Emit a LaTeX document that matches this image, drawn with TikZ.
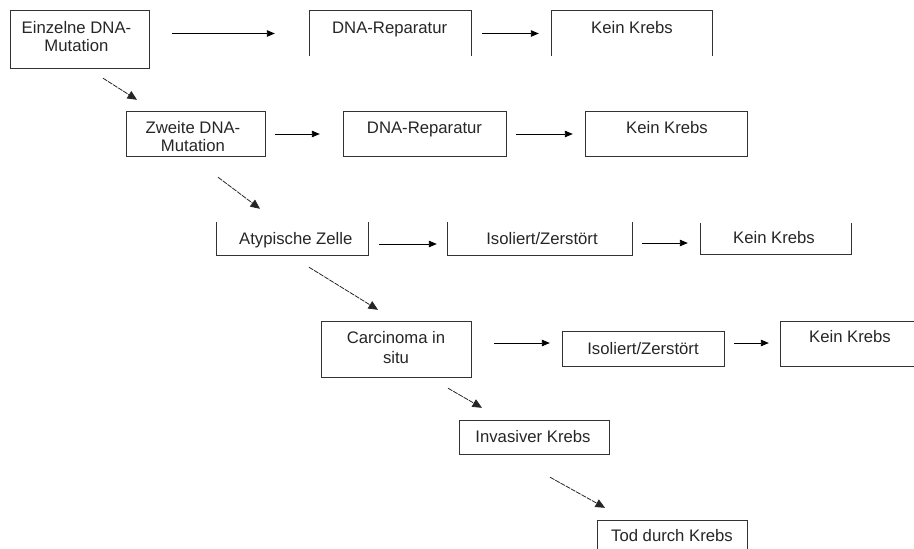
\documentclass[tikz,border=0pt]{standalone}
\usepackage{fontspec}
\setmainfont{Liberation Sans}
\usetikzlibrary{arrows.meta}
\tikzset{
  boxshape/.style={draw=none, inner sep=0pt, rectangle},
  edge/.style={draw=black!80, line width=0.9pt},
  txt/.style={inner sep=0pt, align=center, text height=12pt, text depth=0pt,
    font=\fontsize{16.7}{18.5}\selectfont, text=black!85},
  txttwo/.style={inner sep=0pt, align=center, anchor=north,
    font=\fontsize{16.7}{18.5}\selectfont, text=black!85},
  harr/.style={draw=black, line width=0.9pt, -{Triangle[length=8pt,width=6.5pt]}},
  darr/.style={draw=black!85, line width=0.8pt, dash pattern=on 5pt off 1pt,
    -{Triangle[length=9.5pt,width=8.5pt]}}
}
\begin{document}
\begin{tikzpicture}[x=1pt,y=-1pt]
\useasboundingbox (0,0) rectangle (914,549);
% box shapes
\node[boxshape, minimum width=138pt, minimum height=57pt] (b1) at (80,39.5) {};
\node[boxshape, minimum width=161pt, minimum height=45pt] (r1) at (390.5,33.5) {};
\node[boxshape, minimum width=160pt, minimum height=45pt] (k1) at (632,33.5) {};
\node[boxshape, minimum width=138pt, minimum height=44pt] (b2) at (196,134) {};
\node[boxshape, minimum width=162pt, minimum height=44pt] (r2) at (425,134) {};
\node[boxshape, minimum width=161pt, minimum height=44pt] (k2) at (666.5,134) {};
\node[boxshape, minimum width=151pt, minimum height=33pt] (b3) at (292.5,238.5) {};
\node[boxshape, minimum width=184pt, minimum height=33pt] (r3) at (540,238.5) {};
\node[boxshape, minimum width=150pt, minimum height=31pt] (k3) at (776,238.5) {};
\node[boxshape, minimum width=149pt, minimum height=55pt] (b4) at (396.5,349.5) {};
\node[boxshape, minimum width=161pt, minimum height=34pt] (r4) at (643.5,349) {};
\node[boxshape, minimum width=133pt, minimum height=44pt] (k4) at (847.5,344) {};
\node[boxshape, minimum width=149pt, minimum height=33pt] (b5) at (534.5,437.5) {};
\node[boxshape, minimum width=149pt, minimum height=28pt] (b6) at (672.5,535) {};
% outlines
\draw[edge] (b1.south west) rectangle (b1.north east);
\draw[edge] (r1.south west) -- (r1.north west) -- (r1.north east) -- (r1.south east);
\draw[edge] (k1.south west) -- (k1.north west) -- (k1.north east) -- (k1.south east);
\draw[edge] (b2.south west) rectangle (b2.north east);
\draw[edge] (r2.south west) rectangle (r2.north east);
\draw[edge] (k2.south west) rectangle (k2.north east);
\draw[edge] (b3.north west) -- (b3.south west) -- (b3.south east) -- (b3.north east);
\draw[edge] (r3.north west) -- (r3.south west) -- (r3.south east) -- (r3.north east);
\draw[edge] (k3.north west) -- (k3.south west) -- (k3.south east) -- (k3.north east);
\draw[edge] (b4.south west) rectangle (b4.north east);
\draw[edge] (r4.south west) rectangle (r4.north east);
\draw[edge] (k4.north east) -- (k4.north west) -- (k4.south west) -- (k4.south east);
\draw[edge] (b5.south west) rectangle (b5.north east);
\draw[edge] (b6.south west) -- (b6.north west) -- (b6.north east) -- (b6.south east);
% texts
\node[txttwo] (t1) at (76.5,20.8) {Einzelne DNA-\\Mutation};
\node[txt] (tr1) at (389.7,27) {DNA-Reparatur};
\node[txt] (tk1) at (632,27) {Kein Krebs};
\node[txttwo] (t2) at (193,120.8) {Zweite DNA-\\Mutation};
\node[txt] (tr2) at (424.5,127) {DNA-Reparatur};
\node[txt] (tk2) at (667,127) {Kein Krebs};
\node[txt] (t3) at (295.8,238) {Atypische Zelle};
\node[txt] (tr3) at (542,238) {Isoliert/Zerstört};
\node[txt] (tk3) at (774,237) {Kein Krebs};
\node[txttwo, font=\fontsize{16.7}{20}\selectfont] (t4) at (396,330.8) {Carcinoma in\\situ};
\node[txt] (tr4) at (643,348) {Isoliert/Zerstört};
\node[txt] (tk4) at (850,336) {Kein Krebs};
\node[txt] (t5) at (533,436) {Invasiver Krebs};
\node[txt] (t6) at (672,535) {Tod durch Krebs};
% horizontal arrows
\draw[harr, shorten <=23pt, shorten >=35pt] (b1.east |- r1.west) -- (r1.west);
\draw[harr, shorten <=11pt, shorten >=13pt] (r1.east) -- (k1.west);
\draw[harr, shorten <=10pt, shorten >=24pt] (b2.east) -- (r2.west);
\draw[harr, shorten <=10pt, shorten >=13pt] (r2.east) -- (k2.west);
\draw[harr, shorten <=11pt, shorten >=11pt] ([yshift=-5.5pt]b3.east) -- ([yshift=-5.5pt]r3.west);
\draw[harr, shorten <=10pt, shorten >=13pt] ([yshift=-4.5pt]r3.east) -- ([yshift=-4.5pt]k3.west);
\draw[harr, shorten <=23pt, shorten >=13pt] ([yshift=6.5pt]b4.east) -- ([yshift=6pt]r4.west);
\draw[harr, shorten <=10pt, shorten >=12pt] ([yshift=6pt]r4.east) -- ([yshift=1pt]k4.west);
% diagonal arrows
\draw[darr] ([shift={(23,10)}]b1.south) -- ([shift={(-59,-12)}]b2.north);
\draw[darr] ([shift={(22,21)}]b2.south) -- ([shift={(-32.5,-13)}]b3.north);
\draw[darr] ([shift={(16.5,12)}]b3.south) -- ([shift={(-18.5,-12)}]b4.north);
\draw[darr] ([shift={(51.5,11)}]b4.south) -- ([shift={(-52.5,-13)}]b5.north);
\draw[darr] ([shift={(15.5,23)}]b5.south) -- ([shift={(-67.5,-13)}]b6.north);
\end{tikzpicture}
\end{document}
